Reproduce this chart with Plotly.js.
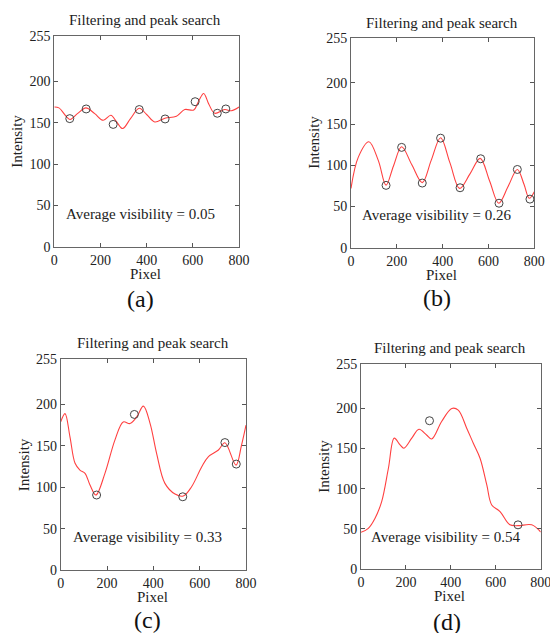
<!DOCTYPE html>
<html>
<head>
<meta charset="utf-8">
<script src="https://cdn.plot.ly/plotly-3.0.1.min.js"></script>
<style>html,body{margin:0;padding:0;background:#fff;}#chart{width:550px;height:633px;}</style>
</head>
<body>
<div id="chart"></div>
<script>
// ---- data ----
var xTicks = [0, 200, 400, 600, 800];
var yTicks = [0, 50, 100, 150, 200, 255];
var panelLabels = ['(a)', '(b)', '(c)', '(d)'];
var visibility = [0.05, 0.26, 0.33, 0.54];

var aPixel = [0, 20, 68, 100, 137, 175, 212, 245, 270, 296, 330, 368, 400, 435, 479, 529, 565, 604, 625, 647, 670, 695, 738, 767, 800];
var aIntensity = [169, 168, 154, 161, 168, 161, 153, 159, 151, 143, 155, 167.5, 160, 151, 155.5, 158, 166, 165.5, 176, 185.5, 172, 161.5, 166, 164.5, 169];
var aPeakX = [67, 138, 255, 368, 480, 610, 706, 743];
var aPeakY = [155, 166.7, 148, 166, 154.6, 175.5, 161.5, 166.7];

var bPixel = [0, 32, 78, 119, 153, 185, 221, 265, 311, 350, 391, 432, 474, 520, 564, 605, 645, 685, 726, 755, 778, 800];
var bIntensity = [72, 110, 128.6, 106, 76, 99, 122.6, 101, 79, 106, 133.5, 103, 72, 90, 108.5, 81, 54, 74, 95, 77, 60, 68];
var bPeakX = [153, 221, 311, 391, 476, 566, 646, 726, 781];
var bPeakY = [75.7, 121.8, 78.5, 133, 72.8, 108, 54, 95, 59];

var cPixel = [0, 18.6, 40, 62, 83, 105, 126.5, 152, 191, 234, 270, 299, 328, 357, 386, 414, 450, 493.5, 529, 565, 609, 637, 681, 709, 757, 780, 800];
var cIntensity = [179, 189, 161, 129, 120.8, 116.8, 102.7, 90.6, 116.8, 157, 179, 177, 185, 198, 177, 141, 104.7, 91.8, 89.4, 100.6, 124.8, 136.8, 145, 153.8, 126.8, 150, 175];
var cPeakX = [155, 318, 527, 709, 758];
var cPeakY = [90.6, 188, 88.5, 154, 128];

var dPixel = [0, 32.6, 62, 92, 122, 148, 174, 191, 226, 258, 292, 315, 359, 404, 433, 470.6, 500, 530, 560, 582, 619, 663, 700, 760, 800];
var dIntensity = [45.7, 50.7, 63, 84, 125.5, 163, 154.6, 150.5, 163, 174, 167, 162, 183.7, 200, 198, 175.4, 156.7, 138, 104.7, 79.8, 71.5, 55, 54, 55, 46];
var dPeakX = [305, 699];
var dPeakY = [184.7, 55];

// ---- build ----
var series = [
  [aPixel, aIntensity, aPeakX, aPeakY],
  [bPixel, bIntensity, bPeakX, bPeakY],
  [cPixel, cIntensity, cPeakX, cPeakY],
  [dPixel, dIntensity, dPeakX, dPeakY]
];
var W = 550, H = 633;
// plot-area boxes in page pixels [left, right, top, bottom]
var boxes = [
  [54.3, 239, 36, 246.7],
  [351, 534.3, 37.7, 247.7],
  [60.7, 246, 359, 570],
  [361, 540.7, 364.3, 569]
];
var titlePos = [[145.3, 20], [441.7, 22.7], [152.8, 343.3], [450, 348.3]];
var labelPos = [[140.3, 299], [437, 298], [147.5, 620], [446.7, 622]];

var FONT = 'Liberation Serif, Times New Roman, serif';
var traces = [];
var layout = {
  width: W, height: H,
  margin: {l: 0, r: 0, t: 0, b: 0},
  paper_bgcolor: '#fff', plot_bgcolor: '#fff',
  showlegend: false,
  font: {family: FONT, color: '#222', size: 14},
  annotations: []
};

function paperAnn(px, py, text, size, extra) {
  var a = {
    xref: 'paper', yref: 'paper', x: px / W, y: 1 - py / H,
    text: text, showarrow: false,
    font: {family: FONT, size: size, color: '#222'},
    xanchor: 'center', yanchor: 'middle'
  };
  for (var key in extra) a[key] = extra[key];
  return a;
}

series.forEach(function (s, i) {
  var k = i === 0 ? '' : String(i + 1);
  var b = boxes[i];
  traces.push({
    x: s[0], y: s[1], xaxis: 'x' + k, yaxis: 'y' + k,
    type: 'scatter', mode: 'lines',
    line: {color: '#ff4040', width: 1.1, shape: 'spline', smoothing: 1},
    hoverinfo: 'skip'
  });
  traces.push({
    x: s[2], y: s[3], xaxis: 'x' + k, yaxis: 'y' + k,
    type: 'scatter', mode: 'markers',
    marker: {symbol: 'circle-open', size: 8, color: '#444', line: {width: 1, color: '#444'}},
    hoverinfo: 'skip'
  });
  layout['xaxis' + k] = {
    domain: [b[0] / W, b[1] / W], anchor: 'y' + k,
    range: [0, 800], tickvals: xTicks, ticktext: xTicks.map(String),
    ticks: 'inside', ticklen: 4, tickcolor: '#555', showline: true, mirror: 'ticks',
    linecolor: '#666', linewidth: 1, showgrid: false, zeroline: false,
    ticklabeloverflow: 'allow',
    tickfont: {family: FONT, size: 14, color: '#222'}
  };
  layout['yaxis' + k] = {
    domain: [1 - b[3] / H, 1 - b[2] / H], anchor: 'x' + k,
    range: [0, 255], tickvals: yTicks, ticktext: yTicks.map(String),
    ticks: 'inside', ticklen: 4, tickcolor: '#555', showline: true, mirror: 'ticks',
    linecolor: '#666', linewidth: 1, showgrid: false, zeroline: false,
    ticklabeloverflow: 'allow',
    tickfont: {family: FONT, size: 14, color: '#222'}
  };
  // in-plot visibility text
  layout.annotations.push({
    xref: 'x' + k, yref: 'y' + k, x: 374, y: 39.5,
    text: 'Average visibility = ' + visibility[i].toFixed(2),
    showarrow: false, font: {family: FONT, size: 15, color: '#222'},
    xanchor: 'center', yanchor: 'middle'
  });
  // subplot title
  layout.annotations.push(paperAnn(titlePos[i][0], titlePos[i][1], 'Filtering and peak search', 15));
  // axis titles
  var cx = (b[0] + b[1]) / 2, cy = (b[2] + b[3]) / 2;
  layout.annotations.push(paperAnn(cx - 1, b[3] + 27, 'Pixel', 15));
  layout.annotations.push(paperAnn(b[0] - 37, cy, 'Intensity', 15, {textangle: -90}));
  // panel label
  layout.annotations.push(paperAnn(labelPos[i][0], labelPos[i][1], panelLabels[i], 24, {font: {family: FONT, size: 24, color: '#111'}}));
});

Plotly.newPlot('chart', traces, layout, {staticPlot: true, displayModeBar: false});
</script>
</body>
</html>
